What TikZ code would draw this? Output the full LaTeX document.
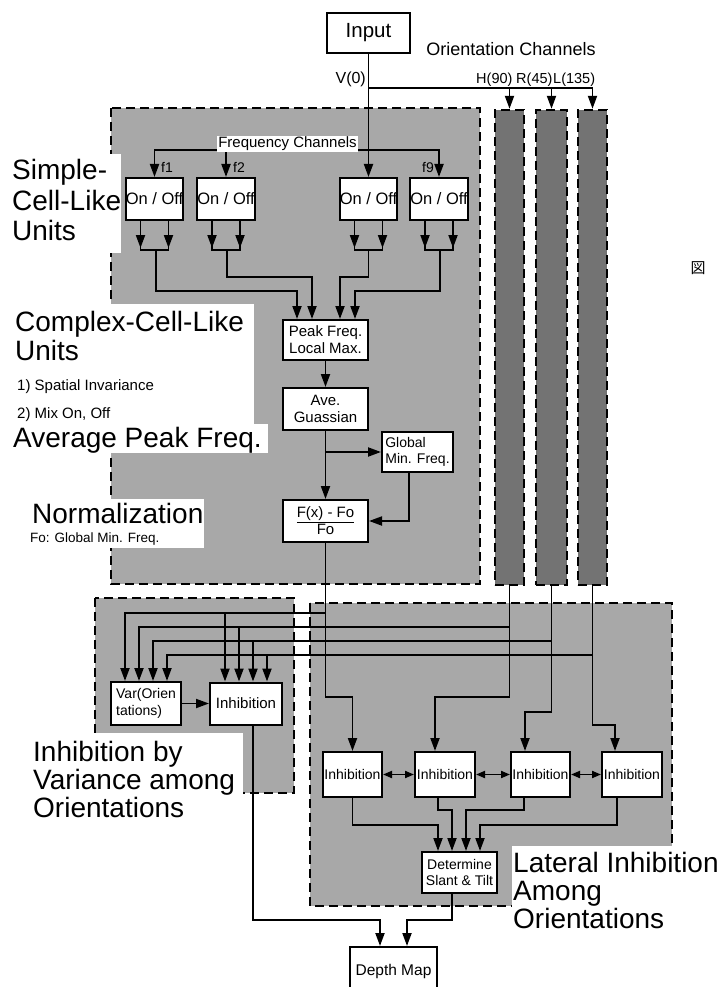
\documentclass[tikz,border=0pt]{standalone}
\usepackage{fontspec}
\setmainfont{Liberation Sans}
\newfontfamily\cjk{Noto Sans CJK JP}
\usetikzlibrary{arrows.meta,calc}
\begin{document}
\begin{tikzpicture}[x=1pt,y=-1pt,
  box/.style={draw,line width=2pt,fill=white,inner sep=0pt,align=center},
  region/.style={draw,line width=2.4pt,dash pattern=on 9pt off 5pt,fill=black!34},
  bar/.style={region,fill=black!55,inner sep=0pt},
  con/.style={line width=1.9pt},
  arr/.style={con,-{Triangle[length=13pt,width=9pt]}},
  darr/.style={con,{Triangle[length=9pt,width=7pt]}-{Triangle[length=9pt,width=7pt]}},
  fbig/.style={font=\fontsize{28}{30}\selectfont,inner sep=0pt,anchor=base west},
  fsmall/.style={font=\fontsize{15}{15}\selectfont,inner sep=0pt,anchor=base west},
  f16/.style={font=\fontsize{16.5}{17}\selectfont},
  f15/.style={font=\fontsize{15}{17}\selectfont},
  f14/.style={font=\fontsize{14}{16.5}\selectfont},
  patch/.style={fill=white,draw=none}
]
\useasboundingbox (0,0) rectangle (721,987);
\fill[white] (0,0) rectangle (721,987);

% shaded regions
\draw[region] (111,108) rectangle (480,584);
\draw[region] (95,598) rectangle (294,793);
\draw[region] (310,603) rectangle (672,906);
\node[bar,minimum width=29pt,minimum height=475pt] (b1) at (509.5,347.5) {};
\node[bar,minimum width=31pt,minimum height=475pt] (b2) at (551.5,347.5) {};
\node[bar,minimum width=29pt,minimum height=475pt] (b3) at (592.5,347.5) {};

% white label patches
\fill[patch] (0,154) rectangle (121,253);
\fill[patch] (0,304) rectangle (254,425);
\fill[patch] (0,424) rectangle (268,453);
\fill[patch] (20,499) rectangle (204,548);
\fill[patch] (25,733) rectangle (243,823);
\fill[patch] (512,846) rectangle (721,936);

% boxes
\node[box,minimum width=83pt,minimum height=40pt,font=\fontsize{20.5}{20}\selectfont] (in) at (368.5,33) {Input};
\node[box,minimum width=57pt,minimum height=42pt,f16] (oo1) at (154.5,199) {On / Off};
\node[box,minimum width=58pt,minimum height=42pt,f16] (oo2) at (226,199) {On / Off};
\node[box,minimum width=57pt,minimum height=42pt,f16] (oo3) at (368.5,199) {On / Off};
\node[box,minimum width=58pt,minimum height=42pt,f16] (oo4) at (439,199) {On / Off};
\node[box,minimum width=85pt,minimum height=40pt,f15] (pk) at (325.5,340) {Peak Freq.\\Local Max.};
\node[box,minimum width=85pt,minimum height=42pt,f15] (av) at (325.5,409) {Ave.\\Guassian};
\node[box,minimum width=71pt,minimum height=40pt,f14,align=left] (gm) at (417.5,452) {Global\\Min. Freq.};
\node[box,minimum width=85pt,minimum height=42pt,f15] (nm) at (325.5,521) {\underline{F(x) - Fo}\\Fo};
\node[box,minimum width=70pt,minimum height=43pt,f14,align=left] (var) at (146,703.5) {Var(Orien\\tations)};
\node[box,minimum width=72pt,minimum height=42pt,f15] (inl) at (246,703.5) {Inhibition};
\node[box,minimum width=59pt,minimum height=45pt,f14] (L1) at (352.5,774.5) {Inhibition};
\node[box,minimum width=60pt,minimum height=45pt,f14] (L2) at (445,774.5) {Inhibition};
\node[box,minimum width=59pt,minimum height=45pt,f14] (L3) at (540.5,774.5) {Inhibition};
\node[box,minimum width=60pt,minimum height=45pt,f14] (L4) at (632,774.5) {Inhibition};
\node[box,minimum width=75pt,minimum height=41pt,f14] (dt) at (459.5,872.5) {Determine\\Slant \& Tilt};
\node[box,minimum width=87pt,minimum height=48pt,font=\fontsize{15.5}{17}\selectfont] (dm) at (393.5,971) {Depth Map};

% top labels
\node[font=\fontsize{18}{18}\selectfont,anchor=base,inner sep=0pt] (oc) at (511,56) {Orientation Channels};
\node[font=\fontsize{16}{16}\selectfont,anchor=base east,inner sep=0pt] (v0) at (366,84) {V(0)};
\node[font=\fontsize{14.5}{14}\selectfont,anchor=base west,inner sep=0pt] (h90) at (476,84) {H(90)};
\node[font=\fontsize{14.5}{14}\selectfont,anchor=base west,inner sep=0pt] (r45) at (516,84) {R(45)};
\node[font=\fontsize{14.5}{14}\selectfont,anchor=base west,inner sep=0pt] (l135) at (553,84) {L(135)};
\node[font=\fontsize{15}{15}\selectfont,fill=white,inner sep=1pt] (fc) at (287.5,144) {Frequency Channels};
\node[font=\fontsize{14}{14}\selectfont,anchor=base west,inner sep=0pt] (f1) at (161,172) {f1};
\node[font=\fontsize{14}{14}\selectfont,anchor=base west,inner sep=0pt] (f2) at (233,172) {f2};
\node[font=\fontsize{14}{14}\selectfont,anchor=base east,inner sep=0pt] (f9) at (434,172) {f9};

% input connectors
\draw[arr] (in.south) -- (oo3.north);
\coordinate (ob) at (368.5,88);
\draw[con] (ob) -- (b3.north |- ob);
\draw[arr] (b1.north |- ob) -- (b1.north);
\draw[arr] (b2.north |- ob) -- (b2.north);
\draw[arr] (b3.north |- ob) -- (b3.north);
\coordinate (fl) at (217,150);
\coordinate (fr) at (358,150);
\draw[arr] (fl) -| (oo1.north);
\draw[arr] (fr) -| (oo4.north);
\draw[arr] (oo2.north |- fc.south) -- (oo2.north);

% on/off outputs
\foreach \b in {oo1,oo2,oo3,oo4} {
  \draw[arr] ([xshift=-14pt]\b.south) -- ++(0,27);
  \draw[arr] ([xshift=14pt]\b.south) -- ++(0,27);
  \draw[con] ([xshift=-14pt]\b.south) ++(0,21) -- ++(0,8) -- ++(28,0) -- ++(0,-8);
}
\draw[arr] ($(oo1.south)+(1.5,29)$) -- ++(0,41) -| ([xshift=-28.5pt]pk.north);
\draw[arr] ($(oo2.south)+(1,29)$) -- ++(0,27) -| ([xshift=-13.5pt]pk.north);
\draw[arr] ($(oo3.south)+(0,29)$) -- ++(0,27) -| ([xshift=14.5pt]pk.north);
\draw[arr] ($(oo4.south)+(1,29)$) -- ++(0,41) -| ([xshift=29.5pt]pk.north);

% complex chain
\draw[arr] (pk) -- (av);
\draw[arr] (av) -- (nm);
\draw[arr] (av.south |- gm.west) -- (gm.west);
\draw[arr] ([xshift=-8.5pt]gm.south) |- (nm.east);

% norm / bars to lower parts
\coordinate (c1) at (0,697);
\coordinate (c2) at (0,712);
\coordinate (c3) at (0,725);
\coordinate (t1) at (L1.north);
\coordinate (t2) at ([xshift=-10pt]L2.north);
\coordinate (t3) at ([xshift=-15.5pt]L3.north);
\coordinate (t4) at ([xshift=-17pt]L4.north);
\draw[arr] (nm.south) |- (t1 |- c1) -- (t1);
\draw[arr] (b1.south) |- (t2 |- c1) -- (t2);
\draw[arr] (b2.south) |- (t3 |- c2) -- (t3);
\draw[arr] (b3.south) |- (t4 |- c3) -- (t4);

\coordinate (y1) at (0,613);
\coordinate (y2) at (0,627);
\coordinate (y3) at (0,641);
\coordinate (y4) at (0,655);
\coordinate (v1) at ([xshift=-21pt]var.north);
\coordinate (v2) at ([xshift=-7pt]var.north);
\coordinate (v3) at ([xshift=7pt]var.north);
\coordinate (v4) at ([xshift=21pt]var.north);
\coordinate (i1) at ([xshift=-21pt]inl.north);
\coordinate (i2) at ([xshift=-7pt]inl.north);
\coordinate (i3) at ([xshift=7pt]inl.north);
\coordinate (i4) at ([xshift=21pt]inl.north);
\draw[arr] (nm.south |- y1) -| (v1);
\draw[arr] (b1.south |- y2) -| (v2);
\draw[arr] (b2.south |- y3) -| (v3);
\draw[arr] (b3.south |- y4) -| (v4);
\draw[arr] (i1 |- y1) -- (i1);
\draw[arr] (i2 |- y2) -- (i2);
\draw[arr] (i3 |- y3) -- (i3);
\draw[arr] (i4 |- y4) -- (i4);

\draw[arr] (var.east) -- (var.east -| inl.west);

% lateral
\draw[darr] (L1.east) -- (L2.west);
\draw[darr] (L2.east) -- (L3.west);
\draw[darr] (L3.east) -- (L4.west);
\coordinate (y810) at (0,810);
\coordinate (y825) at (0,825);
\coordinate (e1) at ([xshift=-21.5pt]dt.north);
\coordinate (e2) at ([xshift=-7.5pt]dt.north);
\coordinate (e3) at ([xshift=6.5pt]dt.north);
\coordinate (e4) at ([xshift=20.5pt]dt.north);
\draw[arr] (L1.south) |- (e1 |- y825) -- (e1);
\draw[arr] ([xshift=-7pt]L2.south) |- (e2 |- y810) -- (e2);
\draw[arr] ([xshift=-16.5pt]L3.south) |- (e3 |- y810) -- (e3);
\draw[arr] ([xshift=-15pt]L4.south) |- (e4 |- y825) -- (e4);

% to depth map
\coordinate (y9) at (0,920);
\coordinate (d1) at ([xshift=-13.5pt]dm.north);
\coordinate (d2) at ([xshift=13.5pt]dm.north);
\draw[arr] ([xshift=7pt]inl.south) |- (d1 |- y9) -- (d1);
\draw[arr] ([xshift=-7.5pt]dt.south) |- (d2 |- y9) -- (d2);

% big labels
\node[fbig] (s1) at (12,180) {Simple-};
\node[fbig] (s2) at (12,210) {Cell-Like};
\node[fbig] (s3) at (12,240) {Units};
\node[fbig] (c1t) at (15,331) {Complex-Cell-Like};
\node[fbig] (c2t) at (15,360) {Units};
\node[fsmall] (c3t) at (17,390) {1) Spatial Invariance};
\node[fsmall] (c4t) at (17,418) {2) Mix On, Off};
\node[fbig] (ap) at (13,447) {Average Peak Freq.};
\node[fbig] (no) at (32,523) {Normalization};
\node[font=\fontsize{13.5}{13.5}\selectfont,inner sep=0pt,anchor=base west] (fo) at (30,542) {Fo: Global Min. Freq.};
\node[fbig] (ib1) at (33,761) {Inhibition by};
\node[fbig] (ib2) at (33,789) {Variance among};
\node[fbig] (ib3) at (33,817) {Orientations};
\node[fbig] (la1) at (513,872) {Lateral Inhibition};
\node[fbig] (la2) at (513,900) {Among};
\node[fbig] (la3) at (513,928) {Orientations};
\node[font=\cjk\fontsize{15}{15}\selectfont,inner sep=0pt] (zu) at (698,268) {図};
\end{tikzpicture}
\end{document}
